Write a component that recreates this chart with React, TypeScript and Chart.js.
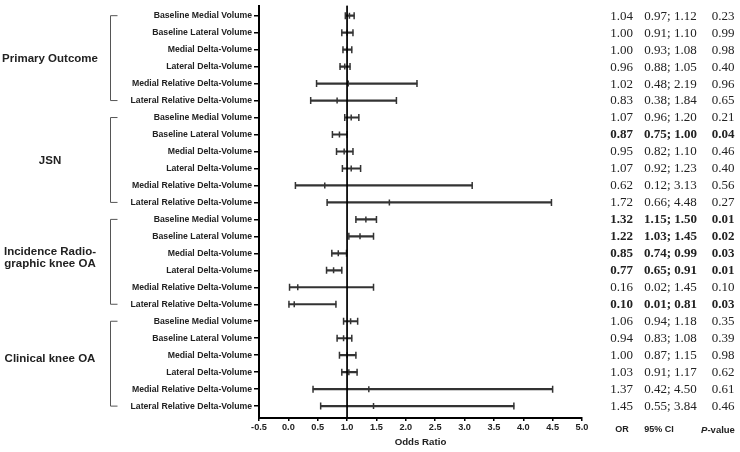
import React, { useEffect, useRef } from "react";
import { Chart, registerables } from "chart.js";
Chart.register(...registerables);

const groupLabels = [["Primary Outcome"], ["JSN"], ["Incidence Radio-", "graphic knee OA"], ["Clinical knee OA"]];
const measures = [
  "Baseline Medial Volume",
  "Baseline Lateral Volume",
  "Medial Delta-Volume",
  "Lateral Delta-Volume",
  "Medial Relative Delta-Volume",
  "Lateral Relative Delta-Volume",
];
const orValues = [
  1.04, 1.0, 1.0, 0.96, 1.02, 0.83,
  1.07, 0.87, 0.95, 1.07, 0.62, 1.72,
  1.32, 1.22, 0.85, 0.77, 0.16, 0.1,
  1.06, 0.94, 1.0, 1.03, 1.37, 1.45,
];
const ciLow = [
  0.97, 0.91, 0.93, 0.88, 0.48, 0.38,
  0.96, 0.75, 0.82, 0.92, 0.12, 0.66,
  1.15, 1.03, 0.74, 0.65, 0.02, 0.01,
  0.94, 0.83, 0.87, 0.91, 0.42, 0.55,
];
const ciHigh = [
  1.12, 1.1, 1.08, 1.05, 2.19, 1.84,
  1.2, 1.0, 1.1, 1.23, 3.13, 4.48,
  1.5, 1.45, 0.99, 0.91, 1.45, 0.81,
  1.18, 1.08, 1.15, 1.17, 4.5, 3.84,
];
const pValues = [
  0.23, 0.99, 0.98, 0.4, 0.96, 0.65,
  0.21, 0.04, 0.46, 0.4, 0.56, 0.27,
  0.01, 0.02, 0.03, 0.01, 0.1, 0.03,
  0.35, 0.39, 0.98, 0.62, 0.61, 0.46,
];
const xTicks = [-0.5, 0, 0.5, 1, 1.5, 2, 2.5, 3, 3.5, 4, 4.5, 5];
const rows = orValues.map((_, i) => i);

const INK = "#333";
const groupLabelShift = [0, 0, -5, -6];

const extrasPlugin = {
  id: "extras",
  afterDraw(chart: any) {
    const { ctx } = chart;
    const y = chart.scales.y;
    ctx.save();
    // group labels and brackets
    groupLabels.forEach((lines, g) => {
      const first = g * 6;
      const last = g * 6 + 5;
      const yTop = y.getPixelForValue(first);
      const yBot = y.getPixelForValue(last);
      ctx.strokeStyle = "#555";
      ctx.lineWidth = 1;
      ctx.beginPath();
      ctx.moveTo(117.5, yTop);
      ctx.lineTo(110.5, yTop);
      ctx.lineTo(110.5, yBot);
      ctx.lineTo(117.5, yBot);
      ctx.stroke();
      ctx.fillStyle = "#222";
      ctx.font = "bold 11.5px 'Liberation Sans', Arial, sans-serif";
      ctx.textAlign = "center";
      ctx.textBaseline = "middle";
      const mid = y.getPixelForValue(first + 2.5) + 1 + groupLabelShift[g];
      const lh = 12.5;
      lines.forEach((t, k) => {
        ctx.fillText(t, 50, mid + (k - (lines.length - 1) / 2) * lh);
      });
    });
    // table
    ctx.fillStyle = "#222";
    ctx.textBaseline = "middle";
    ctx.textAlign = "center";
    rows.forEach((i) => {
      const yy = y.getPixelForValue(i) + 0.5;
      const sig = pValues[i] < 0.05;
      ctx.font = (sig ? "bold " : "") + "13px 'Liberation Serif', 'Times New Roman', serif";
      ctx.fillText(orValues[i].toFixed(2), 621.5, yy);
      ctx.fillText(ciLow[i].toFixed(2) + "; " + ciHigh[i].toFixed(2), 670.5, yy);
      ctx.fillText(pValues[i].toFixed(2), 723, yy);
    });
    // header
    const hy = 430;
    ctx.font = "bold 9px 'Liberation Sans', Arial, sans-serif";
    ctx.fillText("OR", 622, hy);
    ctx.fillText("95% CI", 659, hy);
    ctx.font = "italic bold 9.5px 'Liberation Sans', Arial, sans-serif";
    const pw = ctx.measureText("P").width;
    ctx.font = "bold 9.5px 'Liberation Sans', Arial, sans-serif";
    const vw = ctx.measureText("-value").width;
    const startX = 718 - (pw + vw) / 2;
    ctx.textAlign = "left";
    ctx.font = "italic bold 9.5px 'Liberation Sans', Arial, sans-serif";
    ctx.fillText("P", startX, hy);
    ctx.font = "bold 9.5px 'Liberation Sans', Arial, sans-serif";
    ctx.fillText("-value", startX + pw, hy);
    ctx.restore();
  },
};

export default function App() {
  const ref = useRef<HTMLCanvasElement>(null);
  useEffect(() => {
    const canvas = ref.current;
    if (!canvas) return;
    const chart = new Chart(canvas, {
      type: "scatter",
      data: {
        datasets: [
          {
            type: "scatter",
            label: "ref",
            data: [
              { x: 1, y: -0.6 },
              { x: 1, y: 23.7 },
            ],
            showLine: true,
            borderColor: "#000",
            borderWidth: 1,
            pointRadius: 0,
          } as any,
          {
            type: "bar",
            label: "CI",
            indexAxis: "y",
            data: rows.map((i) => ({ x: [ciLow[i], ciHigh[i]], y: i })),
            backgroundColor: INK,
            borderWidth: 0,
            barThickness: 1.5,
          } as any,
          {
            type: "scatter",
            label: "low",
            data: rows.map((i) => ({ x: ciLow[i], y: i })),
            pointStyle: "line",
            rotation: 90,
            radius: 3.5,
            borderColor: INK,
            borderWidth: 1.5,
          } as any,
          {
            type: "scatter",
            label: "high",
            data: rows.map((i) => ({ x: ciHigh[i], y: i })),
            pointStyle: "line",
            rotation: 90,
            radius: 3.5,
            borderColor: INK,
            borderWidth: 1.5,
          } as any,
          {
            type: "scatter",
            label: "OR",
            data: rows.map((i) => ({ x: orValues[i], y: i })),
            pointStyle: "line",
            rotation: 90,
            radius: 3,
            borderColor: INK,
            borderWidth: 1.5,
          } as any,
        ],
      },
      options: {
        animation: false,
        responsive: false,
        devicePixelRatio: 1,
        layout: { padding: { top: 3, right: 158, left: 0, bottom: 0 } },
        plugins: { legend: { display: false }, tooltip: { enabled: false } },
        scales: {
          x: {
            type: "linear",
            min: -0.5,
            max: 5,
            offset: false,
            afterBuildTicks: (s: any) => {
              s.ticks = xTicks.map((v) => ({ value: v }));
            },
            afterFit: (s: any) => {
              s.height = 34;
            },
            ticks: {
              autoSkip: false,
              maxRotation: 0,
              padding: 1,
              color: "#222",
              font: { family: "'Liberation Sans', Arial, sans-serif", size: 9.2, weight: "bold" },
              callback: (v: any) => Number(v).toFixed(1),
            },
            grid: { drawOnChartArea: false, offset: false, tickLength: 3, color: "#000", lineWidth: 1.5 },
            border: { color: "#000", width: 2 },
            title: {
              display: true,
              text: "Odds Ratio",
              color: "#222",
              padding: { top: 2, bottom: 4 },
              font: { family: "'Liberation Sans', Arial, sans-serif", size: 9.7, weight: "bold" },
            },
          },
          y: {
            type: "linear",
            min: -0.6,
            max: 23.7,
            reverse: true,
            offset: false,
            afterBuildTicks: (s: any) => {
              s.ticks = rows.map((v) => ({ value: v }));
            },
            afterFit: (s: any) => {
              s.width = 259;
              s.paddingTop = 0;
              s.paddingBottom = 0;
            },
            ticks: {
              autoSkip: false,
              padding: 2,
              color: "#222",
              font: { family: "'Liberation Sans', Arial, sans-serif", size: 8.7, weight: "bold" },
              callback: (v: any) => measures[Number(v) % 6],
            },
            grid: { drawOnChartArea: false, offset: false, tickLength: 5, color: "#000", lineWidth: 1.5 },
            border: { color: "#000", width: 2 },
          },
        },
      },
      plugins: [extrasPlugin],
    } as any);
    return () => chart.destroy();
  }, []);
  return (
    <div style={{ position: "absolute", left: 0, top: 0, width: 740, height: 452, background: "#fff" }}>
      <canvas ref={ref} width={740} height={452} style={{ width: 740, height: 452 }} />
    </div>
  );
}
